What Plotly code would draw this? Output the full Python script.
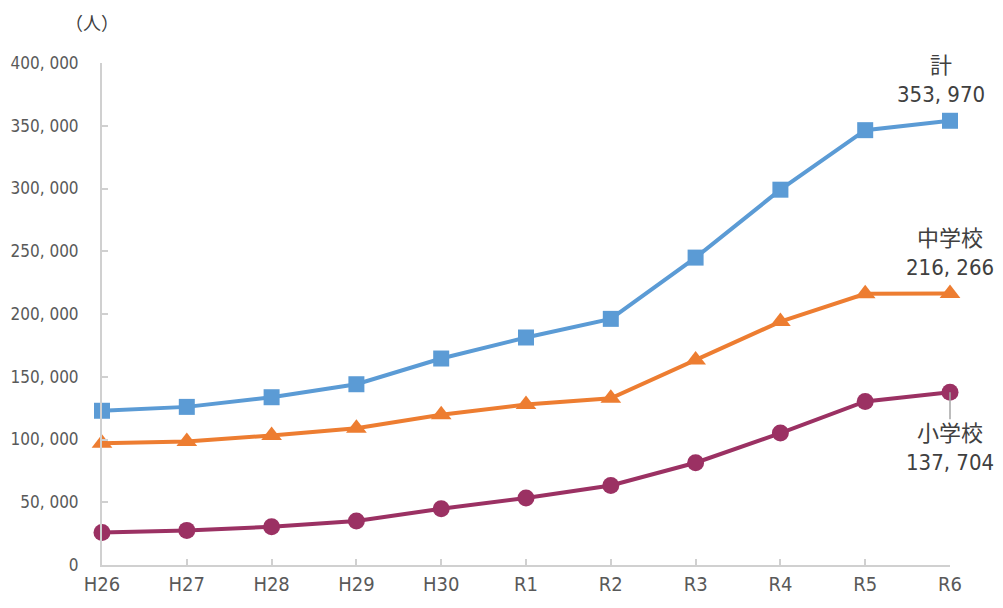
import plotly.graph_objects as go

years = ["H26", "H27", "H28", "H29", "H30", "R1", "R2", "R3", "R4", "R5", "R6"]
total = [122897, 125991, 133683, 144031, 164528, 181272, 196127, 244940, 299048, 346482, 353970]
junior = [97033, 98408, 103235, 108999, 119687, 127922, 132777, 163442, 193936, 216112, 216266]
elementary = [25864, 27583, 30448, 35032, 44841, 53350, 63350, 81498, 105112, 130370, 137704]
y_ticks = [0, 50000, 100000, 150000, 200000, 250000, 300000, 350000, 400000]
y_tick_labels = ["0", "50, 000", "100, 000", "150, 000", "200, 000", "250, 000", "300, 000", "350, 000", "400, 000"]

FONT = "Liberation Sans Narrow, DejaVu Sans Condensed, Noto Sans CJK JP, sans-serif"
JP = "Noto Sans CJK JP, sans-serif"
GREY = "#595959"

fig = go.Figure()
series = [
    (total, "計", "#5B9BD5", "square", 16),
    (junior, "中学校", "#ED7D31", "triangle-up", 18),
    (elementary, "小学校", "#9B3163", "circle", 17),
]
xs = list(range(len(years)))
for vals, name, color, sym, sz in series:
    fig.add_trace(go.Scatter(
        x=xs, y=vals, name=name, mode="lines+markers",
        line=dict(color=color, width=4),
        marker=dict(symbol=sym, size=sz, color=color),
        cliponaxis=False, showlegend=False,
    ))

last = len(years) - 1
fig.add_annotation(x=last, y=total[-1], text=f"計<br>{total[-1]:,}".replace(",", ", "),
                   showarrow=False, xanchor="center", yanchor="bottom", yshift=12, xshift=-9,
                   font=dict(family=FONT, size=22, color="#404040"), align="center")
fig.add_annotation(x=last, y=junior[-1], text=f"中学校<br>{junior[-1]:,}".replace(",", ", "),
                   showarrow=False, xanchor="center", yanchor="bottom", yshift=12, xshift=0,
                   font=dict(family=FONT, size=22, color="#404040"), align="center")
fig.add_annotation(x=last, y=elementary[-1], text=f"小学校<br>{elementary[-1]:,}".replace(",", ", "),
                   showarrow=True, arrowhead=0, arrowwidth=1.5, arrowcolor="#A6A6A6",
                   ax=0, ay=27, standoff=0, xanchor="center", yanchor="top",
                   font=dict(family=FONT, size=22, color="#404040"), align="center")
fig.add_annotation(xref="paper", yref="paper", x=-0.012, y=1.0, yshift=41, text="（人）",
                   showarrow=False, xanchor="center", yanchor="middle",
                   font=dict(family=JP, size=18, color="#404040"))

fig.update_xaxes(
    tickmode="array", tickvals=xs, ticktext=years, range=[0, last],
    showline=True, linecolor="#D0D0D0", linewidth=2, showgrid=False, zeroline=False,
    ticks="inside", ticklen=6, tickcolor="#D0D0D0", tickwidth=2, automargin=False,
    tickfont=dict(family=FONT, size=20, color=GREY),
)
fig.update_yaxes(
    tickmode="array", tickvals=y_ticks, ticktext=y_tick_labels, range=[0, 400000],
    showline=True, linecolor="#D0D0D0", linewidth=2, showgrid=False, zeroline=False,
    ticks="inside", ticklen=6, tickcolor="#D0D0D0", tickwidth=2, automargin=False,
    tickfont=dict(family=FONT, size=17, color=GREY), ticklabelstandoff=18,
)
fig.update_layout(
    width=987, height=592,
    margin=dict(l=94, r=45, t=55, b=35),
    plot_bgcolor="white", paper_bgcolor="white",
)
fig.write_html("out.html")
